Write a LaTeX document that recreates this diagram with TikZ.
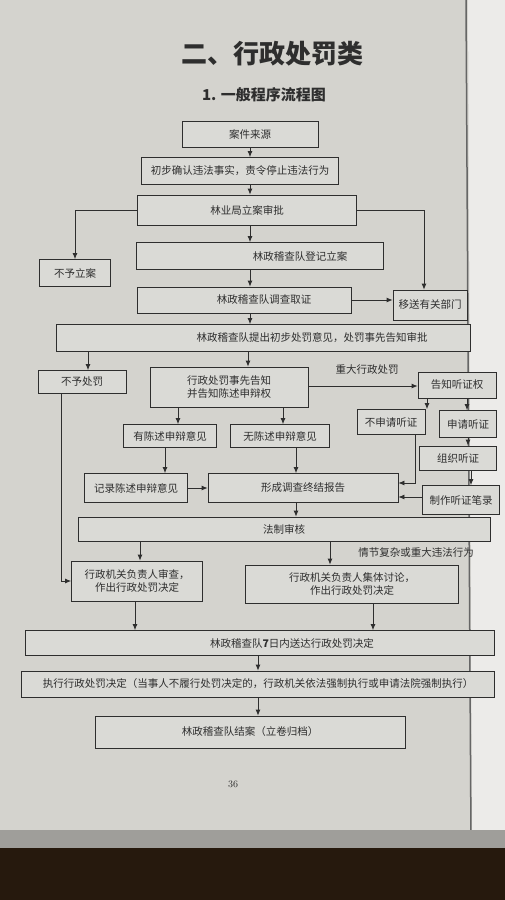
\documentclass[tikz,border=0pt]{standalone}
\usepackage{fontspec}
\newfontfamily\cjk{Noto Sans CJK SC}
\usetikzlibrary{arrows.meta}
\definecolor{page}{HTML}{D4D3CE}
\definecolor{boxfill}{HTML}{DADAD6}
\definecolor{ink}{HTML}{2E2E2E}
\tikzset{
  box/.style={draw=ink, line width=0.8pt, fill=boxfill, inner sep=1pt, font=\cjk\fontsize{10.5}{13.5}\selectfont, text=ink},
  txt/.style={inner sep=0pt, font=\cjk\fontsize{10.5}{13.5}\selectfont, text=ink},
  arr/.style={draw=ink, line width=0.8pt, -{Latex[length=6pt,width=5pt]}},
}
\begin{document}
\begin{tikzpicture}[x=1pt,y=-1pt]
\useasboundingbox (0,0) rectangle (505,900);
% page background
\fill[page] (0,0) rectangle (505,900);
\fill[color=white!55!page] (468,0) -- (505,0) -- (505,840) -- (472,840) -- cycle;
\draw[color=black!60, line width=1.5pt] (466,0) -- (471,840);
\fill[color=black!25!page] (0,830) rectangle (505,848);
\fill[color=black!80!brown] (0,848) rectangle (505,900);

% titles
\node[inner sep=0pt, font=\cjk\bfseries\fontsize{26}{30}\selectfont, text=ink] (title) at (272,54) {二、行政处罚类};
\node[inner sep=0pt, font=\cjk\bfseries\fontsize{15}{18}\selectfont, text=ink] (sub) at (264,95) {1. 一般程序流程图};

% boxes
\node[box, minimum width=136pt, minimum height=26pt] (b1) at (250,134) {案件来源};
\node[box, minimum width=197pt, minimum height=27pt] (b2) at (240,171) {初步确认违法事实，责令停止违法行为};
\node[box, minimum width=219pt, minimum height=30pt] (b3) at (247,210) {林业局立案审批};
\node[box, minimum width=71pt, minimum height=27pt] (b4) at (75,273) {不予立案};
\node[box, minimum width=247pt, minimum height=27pt] (b5) at (260,256) {};
\node[txt] (t5) at (300,256) {林政稽查队登记立案};
\node[box, minimum width=214pt, minimum height=26pt] (b6) at (244,300) {};
\node[txt] (t6) at (264,300) {林政稽查队调查取证};
\node[box, minimum width=74pt, minimum height=30pt] (b7) at (430,305) {移送有关部门};
\node[box, minimum width=414pt, minimum height=27pt] (b8) at (263,338) {};
\node[txt] (t8) at (312,338) {林政稽查队提出初步处罚意见，处罚事先告知审批};
\node[box, minimum width=88pt, minimum height=23pt] (b9) at (82,382) {不予处罚};
\node[box, minimum width=158pt, minimum height=40pt, align=center] (b10) at (229,387) {行政处罚事先告知\\并告知陈述申辩权};
\node[box, minimum width=78pt, minimum height=26pt] (b12) at (457,385) {告知听证权};
\node[box, minimum width=68pt, minimum height=25pt] (b13) at (391,422) {不申请听证};
\node[box, minimum width=57pt, minimum height=27pt] (b14) at (468,424) {申请听证};
\node[box, minimum width=77pt, minimum height=24pt] (b15) at (458,458) {组织听证};
\node[box, minimum width=77pt, minimum height=29pt] (b16) at (461,500) {制作听证笔录};
\node[box, minimum width=93pt, minimum height=23pt] (b17) at (170,436) {有陈述申辩意见};
\node[box, minimum width=99pt, minimum height=23pt] (b18) at (280,436) {无陈述申辩意见};
\node[box, minimum width=103pt, minimum height=29pt] (b19) at (136,488) {记录陈述申辩意见};
\node[box, minimum width=190pt, minimum height=29pt] (b20) at (303,488) {形成调查终结报告};
\node[box, minimum width=412pt, minimum height=24pt] (b21) at (284,529) {法制审核};
\node[box, minimum width=131pt, minimum height=40pt, align=center] (b23) at (137,581) {行政机关负责人审查，\\作出行政处罚决定};
\node[box, minimum width=213pt, minimum height=38pt, align=center] (b24) at (352,584) {行政机关负责人集体讨论，\\作出行政处罚决定};
\node[box, minimum width=469pt, minimum height=25pt] (b25) at (260,643) {};
\node[txt] (t25) at (292,643) {林政稽查队\textbf{7}日内送达行政处罚决定};
\node[box, minimum width=473pt, minimum height=26pt] (b26) at (258,684) {执行行政处罚决定（当事人不履行处罚决定的，行政机关依法强制执行或申请法院强制执行）};
\node[box, minimum width=310pt, minimum height=32pt] (b27) at (250,732) {林政稽查队结案（立卷归档）};

% labels
\node[txt] (l1) at (367,370) {重大行政处罚};
\node[txt] (l2) at (416,553) {情节复杂或重大违法行为};
\node[inner sep=0pt, font=\fontsize{10}{12}\selectfont, text=ink] (pg) at (233,784) {36};

% connectors
\draw[arr] (b1.south -| 250,0) -- (b2.north -| 250,0);
\draw[arr] (b2.south -| 250,0) -- (b3.north -| 250,0);
\draw[arr] (b3.south -| 250,0) -- (b5.north -| 250,0);
\draw[arr] (b3.west) -| (b4.north);
\draw[arr] (b3.east) -| ([xshift=-6pt]b7.north);
\draw[arr] (b5.south -| 250,0) -- (b6.north -| 250,0);
\draw[arr] (b6.east) -- (b6.east -| b7.west);
\draw[arr] (b6.south -| 250,0) -- (b8.north -| 250,0);
\draw[arr] (b8.south -| 88,0) -- (b9.north -| 88,0);
\draw[arr] (b8.south -| 248,0) -- (b10.north -| 248,0);
\draw[arr] (b10.east |- 0,386) -- (b12.west |- 0,386);
\draw[arr] (b12.south -| 427,0) -- (b13.north -| 427,0);
\draw[arr] (b12.south -| 467,0) -- (b14.north -| 467,0);
\draw[arr] (b14.south -| 468,0) -- (b15.north -| 468,0);
\draw[arr] (b15.south -| 471,0) -- (b16.north -| 471,0);
\draw[arr] (b13.south -| 415,0) |- (b20.east |- 0,483);
\draw[arr] (b16.west |- 0,497) -- (b20.east |- 0,497);
\draw[arr] (b10.south -| 178,0) -- (b17.north -| 178,0);
\draw[arr] (b10.south -| 283,0) -- (b18.north -| 283,0);
\draw[arr] (b17.south -| 165,0) -- (b19.north -| 165,0);
\draw[arr] (b18.south -| 296,0) -- (b20.north -| 296,0);
\draw[arr] (b19.east) -- (b20.west |- b19.east);
\draw[arr] (b20.south -| 296,0) -- (b21.north -| 296,0);
\draw[arr] (b9.south -| 61,0) |- (b23.west);
\draw[arr] (b21.south -| 140,0) -- (b23.north -| 140,0);
\draw[arr] (b21.south -| 330,0) -- (b24.north -| 330,0);
\draw[arr] (b23.south -| 135,0) -- (b25.north -| 135,0);
\draw[arr] (b24.south -| 373,0) -- (b25.north -| 373,0);
\draw[arr] (b25.south -| 258,0) -- (b26.north -| 258,0);
\draw[arr] (b26.south -| 258,0) -- (b27.north -| 258,0);
\end{tikzpicture}
\end{document}
